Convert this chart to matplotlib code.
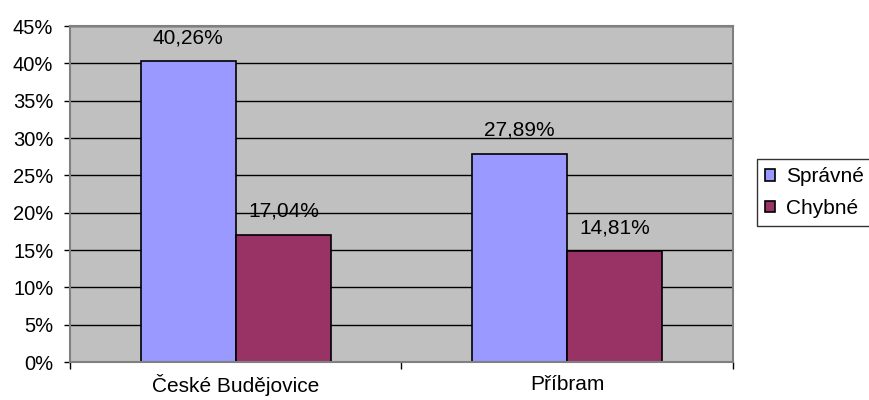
import numpy as np
import matplotlib.pyplot as plt
import matplotlib.ticker as mticker

plt.rcParams['font.family'] = ['Liberation Sans', 'DejaVu Sans']

# chart data
categories = ['České Budějovice', 'Příbram']
series_names = ['Správné', 'Chybné']
spravne = [40.26, 27.89]
chybne = [17.04, 14.81]
colors = ['#9999FF', '#993366']


def main():
    fig = plt.figure(figsize=(8.7, 4.0), dpi=100)
    ax = fig.add_axes([70 / 870, 38 / 400, 663 / 870, 336 / 400])
    ax.set_facecolor('#C0C0C0')

    x = np.arange(len(categories))
    width = 0.287
    values = [spravne, chybne]
    handles = []
    for i, (name, vals) in enumerate(zip(series_names, values)):
        pos = x + (i - 0.5) * width
        bars = ax.bar(pos, vals, width=width, color=colors[i], edgecolor='black',
                      linewidth=1.2, label=name, zorder=3)
        handles.append(bars)
        for p, v in zip(pos, vals):
            ax.annotate(f'{v:.2f}%'.replace('.', ','), (p, v), xytext=(0, 10),
                        textcoords='offset points', ha='center', va='bottom',
                        fontsize=15)

    ax.set_xlim(-0.5, len(categories) - 0.5)
    ax.set_ylim(0, 45)
    ax.yaxis.set_major_locator(mticker.MultipleLocator(5))
    ax.yaxis.set_major_formatter(mticker.FuncFormatter(lambda v, _: f'{v:.0f}%'))
    ax.grid(axis='y', color='black', linewidth=1.0, zorder=1)

    ax.set_xticks(x)
    ax.set_xticklabels(categories, fontsize=15)
    ax.set_xticks(np.arange(len(categories) + 1) - 0.5, minor=True)
    ax.tick_params(axis='x', which='major', length=0, pad=9)
    ax.tick_params(axis='x', which='minor', length=5, width=1, color='black')
    ax.tick_params(axis='y', length=4, width=1, labelsize=14.5, pad=8)

    for side in ['top', 'right', 'left', 'bottom']:
        ax.spines[side].set_color('#808080')
        ax.spines[side].set_linewidth(1.5)
        ax.spines[side].set_zorder(4)

    leg = fig.legend(handles=handles, labels=series_names, loc='upper left',
                     bbox_to_anchor=(757 / 870, 1 - 159 / 400), fontsize=15,
                     frameon=True, fancybox=False, edgecolor='black',
                     handlelength=0.45, handleheight=0.45, handletextpad=0.55,
                     borderpad=0.4, labelspacing=0.6, borderaxespad=0)
    leg.get_frame().set_linewidth(1.0)

    fig.savefig('out.png', dpi=100)


if __name__ == '__main__':
    main()
